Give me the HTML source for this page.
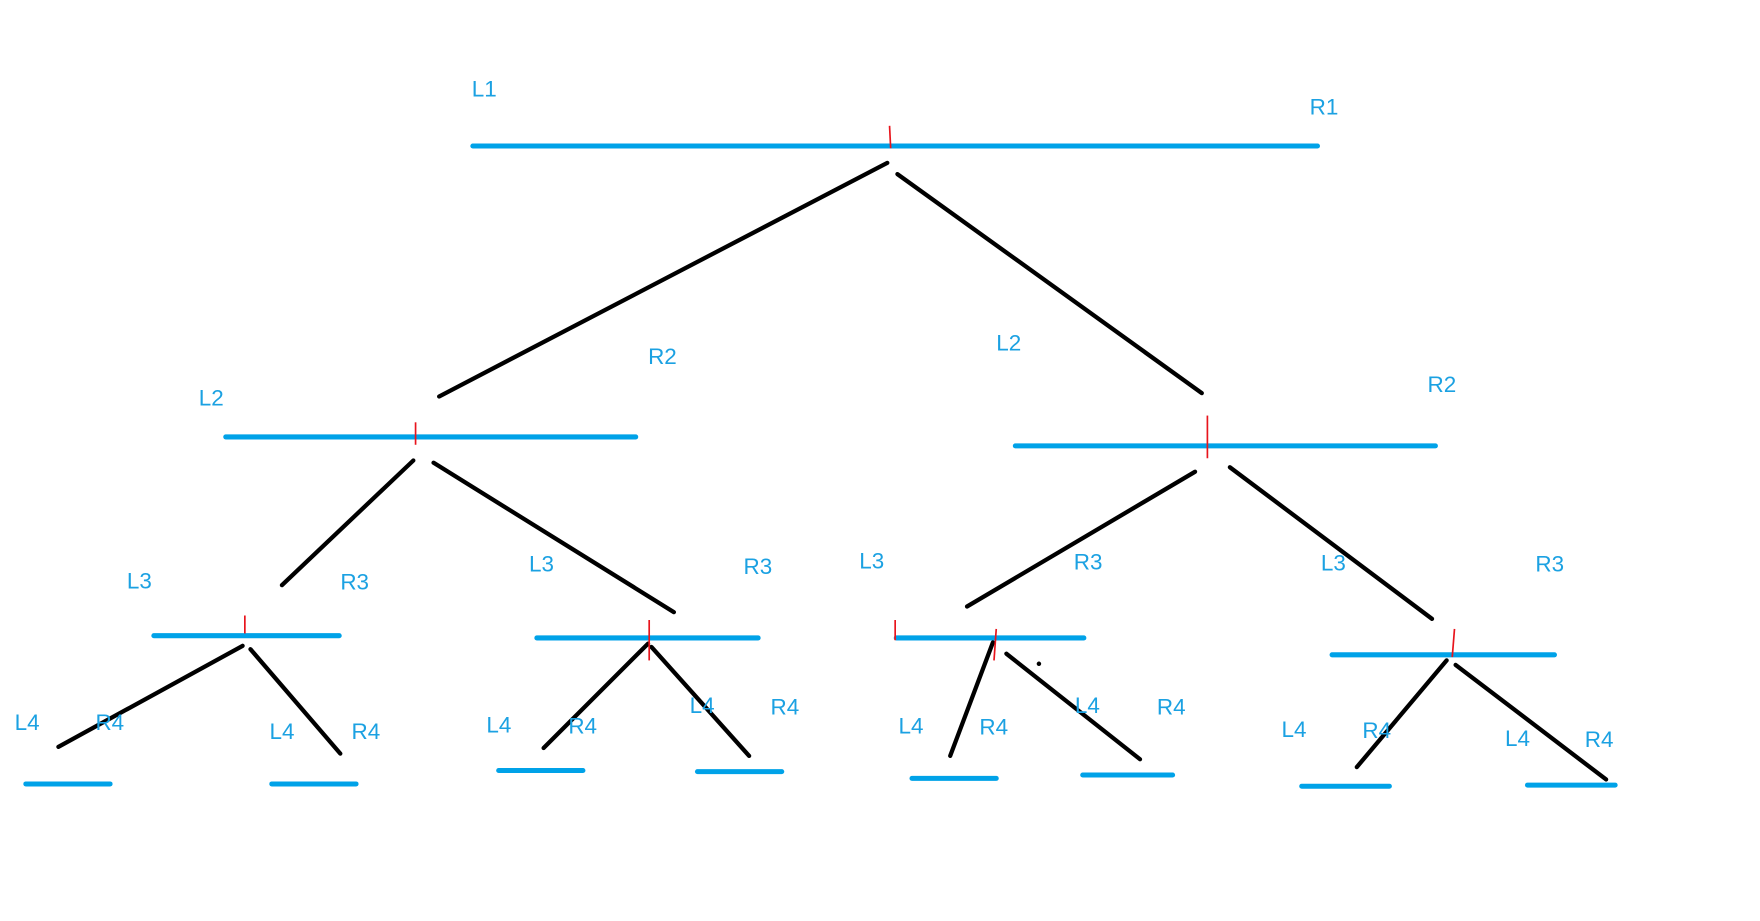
<!DOCTYPE html>
<html><head><meta charset="utf-8"><style>html,body{margin:0;padding:0;background:#fff;overflow:hidden}svg{display:block}</style></head><body>
<svg width="1760" height="921" viewBox="0 0 1567 820" xmlns="http://www.w3.org/2000/svg">
<g stroke="#00a2e8" stroke-width="4.5" stroke-linecap="round">
<line x1="421" y1="130" x2="1173" y2="130"/>
<line x1="201" y1="389" x2="566" y2="389"/>
<line x1="904" y1="397" x2="1278" y2="397"/>
<line x1="137" y1="566" x2="302" y2="566"/>
<line x1="478" y1="568" x2="675" y2="568"/>
<line x1="798" y1="568" x2="965" y2="568"/>
<line x1="1186" y1="583" x2="1384" y2="583"/>
<line x1="23" y1="698" x2="98" y2="698"/>
<line x1="242" y1="698" x2="317" y2="698"/>
<line x1="444" y1="686" x2="519" y2="686"/>
<line x1="621" y1="687" x2="696" y2="687"/>
<line x1="812" y1="693" x2="887" y2="693"/>
<line x1="964" y1="690" x2="1044" y2="690"/>
<line x1="1159" y1="700" x2="1237" y2="700"/>
<line x1="1360" y1="699" x2="1438" y2="699"/>
</g>
<g stroke="#000" stroke-width="3.8" stroke-linecap="round">
<line x1="790" y1="145" x2="391" y2="353"/>
<line x1="799" y1="155" x2="1070" y2="350"/>
<line x1="368" y1="410" x2="251" y2="521"/>
<line x1="386" y1="412" x2="600" y2="545"/>
<line x1="1064" y1="420" x2="861" y2="540"/>
<line x1="1095" y1="416" x2="1275" y2="551"/>
<line x1="216" y1="575" x2="52" y2="665"/>
<line x1="223" y1="578" x2="303" y2="671"/>
<line x1="577" y1="573" x2="484" y2="666"/>
<line x1="580" y1="576" x2="667" y2="673"/>
<line x1="884" y1="572" x2="846" y2="673"/>
<line x1="896" y1="582" x2="1015" y2="676"/>
<line x1="1288" y1="588" x2="1208" y2="683"/>
<line x1="1296" y1="592" x2="1430" y2="694"/>
</g>
<g stroke="#e8141c" stroke-width="1.5">
<line x1="792" y1="112" x2="793" y2="132"/>
<line x1="370" y1="376" x2="370" y2="396"/>
<line x1="1075" y1="370" x2="1075" y2="408"/>
<line x1="218" y1="548" x2="218" y2="564"/>
<line x1="578" y1="552" x2="578" y2="588"/>
<line x1="797" y1="552" x2="797" y2="570"/>
<line x1="887" y1="560" x2="885" y2="588"/>
<line x1="1295" y1="560" x2="1293" y2="585"/>
</g>
<g fill="#1ba1e2" font-family="Liberation Sans, sans-serif" font-size="20">
<text x="420" y="86">L1</text><text x="1166" y="102">R1</text>
<text x="577" y="324">R2</text><text x="177" y="361">L2</text>
<text x="887" y="312">L2</text><text x="1271" y="349">R2</text>
<text x="113" y="524">L3</text><text x="303" y="525">R3</text>
<text x="471" y="509">L3</text><text x="662" y="511">R3</text>
<text x="765" y="506">L3</text><text x="956" y="507">R3</text>
<text x="1176" y="508">L3</text><text x="1367" y="509">R3</text>
<text x="13" y="650">L4</text><text x="85" y="650">R4</text>
<text x="240" y="658">L4</text><text x="313" y="658">R4</text>
<text x="433" y="652">L4</text><text x="506" y="653">R4</text>
<text x="614" y="635">L4</text><text x="686" y="636">R4</text>
<text x="800" y="653">L4</text><text x="872" y="654">R4</text>
<text x="957" y="635">L4</text><text x="1030" y="636">R4</text>
<text x="1141" y="656">L4</text><text x="1213" y="657">R4</text>
<text x="1340" y="664">L4</text><text x="1411" y="665">R4</text>
</g>
<circle cx="925" cy="591" r="2" fill="#000"/>
</svg>
</body></html>
